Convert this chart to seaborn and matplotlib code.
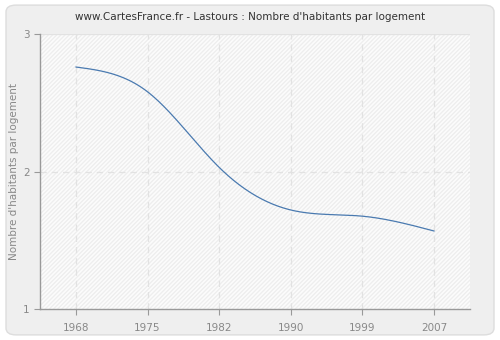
import numpy as np
import pandas as pd
import matplotlib
matplotlib.use("Agg")
import matplotlib.pyplot as plt
import seaborn as sns
from matplotlib.patches import FancyBboxPatch, Rectangle

years = ["1968", "1975", "1982", "1990", "1999", "2007"]
values = [2.76, 2.58, 2.03, 1.72, 1.675, 1.567]
y_ticks = [1, 2, 3]
title = "www.CartesFrance.fr - Lastours : Nombre d'habitants par logement"
ylabel = "Nombre d'habitants par logement"

sns.set_theme(style="white")
plt.rcParams['font.family'] = ['DejaVu Sans']

fig = plt.figure(figsize=(5, 3.4), dpi=100)
fig.patch.set_facecolor("white")
bg = FancyBboxPatch((0.012, 0.015), 0.976, 0.97, boxstyle="round,pad=0,rounding_size=0.02",
                    transform=fig.transFigure, facecolor="#efefef", edgecolor="#dddddd",
                    linewidth=1.0, zorder=-10)
fig.patches.append(bg)

ax = fig.add_axes([40/500, 1-309/340, 430/500, 275/340])
ax.set_facecolor("#fcfcfc")
ax.add_patch(Rectangle((0, 0), 1, 1, transform=ax.transAxes, facecolor="none",
                       edgecolor="#eeeeee", hatch="////////", linewidth=0, zorder=0))

# natural cubic spline through the data points (display smoothing)
xs = np.arange(len(values), dtype=float)
ys = np.array(values, dtype=float)
n = len(xs)
A = np.zeros((n, n))
b = np.zeros(n)
A[0, 0] = 1
A[-1, -1] = 1
for i in range(1, n - 1):
    A[i, i-1] = 1
    A[i, i] = 4
    A[i, i+1] = 1
    b[i] = 6 * (ys[i+1] - 2*ys[i] + ys[i-1])
M = np.linalg.solve(A, b)
dense_x, dense_y = [], []
for i in range(n - 1):
    t = np.linspace(0, 1, 40)
    yv = (1-t)*ys[i] + t*ys[i+1] + ((1-t)**3 - (1-t))*M[i]/6 + (t**3 - t)*M[i+1]/6
    dense_x.extend(xs[i] + t)
    dense_y.extend(yv)
df = pd.DataFrame({"x": dense_x, "y": dense_y})
sns.lineplot(data=df, x="x", y="y", ax=ax, color="#4a7ab0", linewidth=0.9, zorder=3)

ax.set_xlim(-0.5, 5.5)
ax.set_ylim(1, 3)
ax.set_xticks(xs)
ax.set_xticklabels(years)
ax.set_yticks(y_ticks)
ax.set_yticklabels([str(v) for v in y_ticks])
for x in xs:
    ax.axvline(x, color="#e2e2e2", linestyle=(0, (5, 4)), linewidth=0.9, zorder=1)
ax.axhline(2, color="#e2e2e2", linestyle=(0, (5, 4)), linewidth=0.9, zorder=1)
ax.axhline(3, color="#e2e2e2", linewidth=0.9, zorder=1)

for s in ["top", "right"]:
    ax.spines[s].set_visible(False)
for s in ["left", "bottom"]:
    ax.spines[s].set_color("#999999")
    ax.spines[s].set_linewidth(1.0)
ax.tick_params(axis="both", which="major", length=4, width=0.8, color="#999999",
               labelcolor="#888888", labelsize=7.5, direction="out", bottom=True, left=True)
ax.tick_params(axis="x", pad=6)
ax.set_xlabel("")
ax.set_ylabel(ylabel, color="#888888", fontsize=7.5)
ax.yaxis.set_label_coords(-21/430, 0.5)
fig.text(0.5, 1-17/340, title, ha="center", va="center", fontsize=7.5, color="#333333")

fig.savefig("out.png", dpi=100)
